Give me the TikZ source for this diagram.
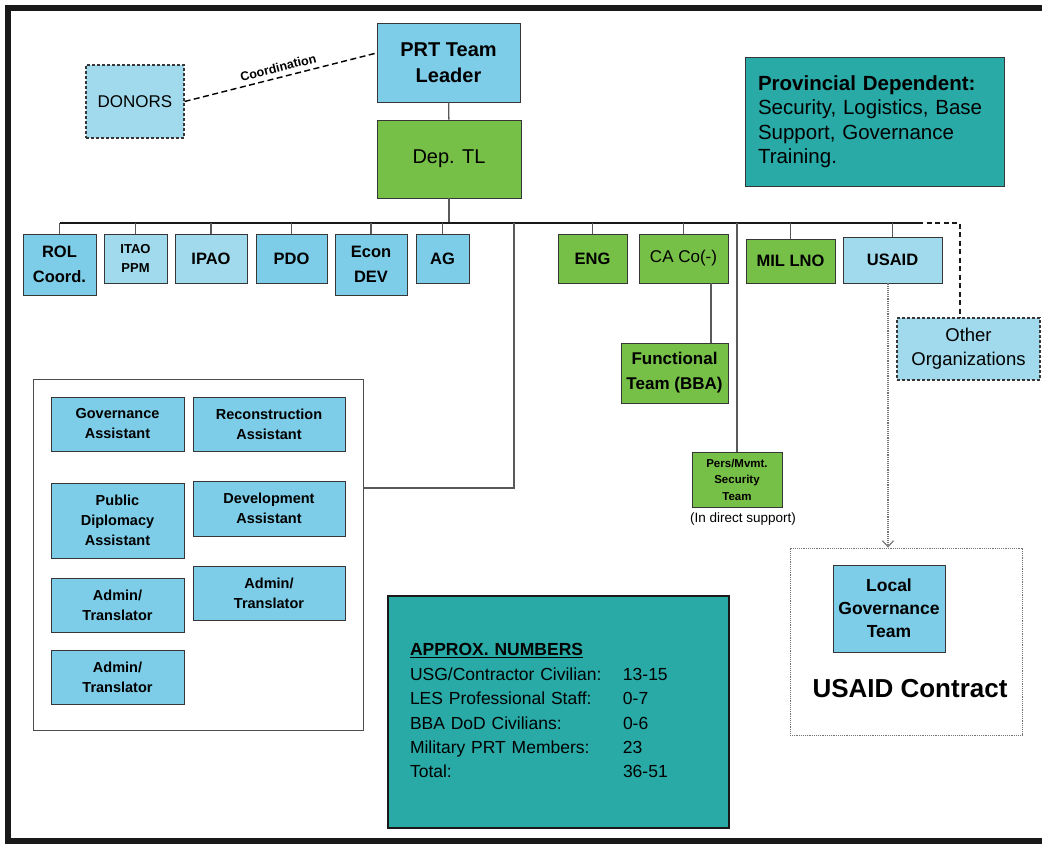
\documentclass[tikz,border=0pt]{standalone}
\usepackage{fontspec}
\setmainfont{Liberation Sans}
\usepackage{tikz}
\usetikzlibrary{positioning,arrows.meta}
\tikzset{link/.style={line width=0.5mm, draw=black!65}}
\tikzset{bus/.style={line width=0.5mm, draw=black!90}}
\tikzset{lbl/.style={draw=none, inner sep=0pt}}
\tikzset{longdash/.style={dash pattern=on 6pt off 3.5pt}}
\definecolor{orgblue}{RGB}{125,205,232}
\definecolor{orgpale}{RGB}{160,218,236}
\definecolor{orggreen}{RGB}{118,192,72}
\definecolor{orgteal}{RGB}{41,170,167}
\definecolor{boxline}{RGB}{55,55,55}
\newcommand{\orgsize}[2]{\fontsize{#1}{#2}\selectfont}

\begin{document}
\begin{tikzpicture}[x=1pt, y=-1pt, every node/.style={draw=boxline, line width=0.3mm, align=center, inner sep=2pt}]
            \useasboundingbox (0,0) rectangle (1042,844);
            \draw[line width=6pt, black!90] (1042,8) -- (8,8) -- (8,841) -- (1042,841);

            % top of the chart
            \node[fill=orgblue, minimum width=143, minimum height=79, font=\bfseries\orgsize{20}{26}] (leader) at (448.5,62.5) {PRT Team\\Leader};
            \node[fill=orggreen, minimum width=144, minimum height=78, font=\orgsize{20}{24}] (deptl) at (449,159) {Dep. TL};
            \node[fill=orgpale, dash pattern=on 3pt off 2pt, line width=0.4mm, minimum width=98, minimum height=73, font=\orgsize{17}{20}] (donors) at (135,101.5) {DONORS};
            \node[fill=orgteal, minimum height=129, text width=233, inner xsep=13pt, align=left, font=\orgsize{20.5}{24.5}] (prov) at (874.5,121.5)
                {\textbf{Provincial Dependent:}\\Security, Logistics, Base\\Support, Governance\\Training.};

            % first row
            \node[fill=orgblue, minimum width=73, minimum height=61, font=\bfseries\orgsize{16.5}{25}] (rol) at (59.5,264.5) {ROL\\Coord.};
            \node[fill=orgpale, minimum width=63, minimum height=49, font=\bfseries\orgsize{13}{19}] (itao) at (135.5,258.5) {ITAO\\PPM};
            \node[fill=orgpale, minimum width=72, minimum height=49, font=\bfseries\orgsize{16.5}{20}] (ipao) at (211,258.5) {IPAO};
            \node[fill=orgblue, minimum width=71, minimum height=49, font=\bfseries\orgsize{16.5}{20}] (pdo) at (291.5,258.5) {PDO};
            \node[fill=orgblue, minimum width=72, minimum height=61, font=\bfseries\orgsize{16.5}{25}] (econ) at (371,264.5) {Econ\\DEV};
            \node[fill=orgblue, minimum width=53, minimum height=49, font=\bfseries\orgsize{16.5}{20}] (ag) at (442.5,258.5) {AG};
            \node[fill=orggreen, minimum width=69, minimum height=49, font=\bfseries\orgsize{16.5}{20}] (eng) at (592.5,258.5) {ENG};
            \node[fill=orggreen, minimum width=89, minimum height=49, font=\orgsize{17}{20}] (caco) at (683.5,258.5) {CA Co(-)};
            \node[fill=orggreen, minimum width=89, minimum height=44, font=\bfseries\orgsize{16.5}{20}] (milno) at (790.5,261) {MIL LNO};
            \node[fill=orgpale, minimum width=99, minimum height=46, font=\bfseries\orgsize{16.5}{20}] (usaid) at (892.5,260) {USAID};
            \node[fill=orgpale, dash pattern=on 3pt off 2pt, line width=0.4mm, minimum width=143, minimum height=62, font=\orgsize{18.5}{24}] (other) at (968.5,349) {Other\\Organizations};

            \node[fill=orggreen, minimum width=107, minimum height=60, font=\bfseries\orgsize{17}{25}] (func) at (674.5,373) {Functional\\Team (BBA)};
            \node[fill=orggreen, minimum width=90, minimum height=55, font=\bfseries\orgsize{11.5}{16.5}] (pers) at (737,479.5) {Pers/Mvmt.\\Security\\Team};
            \node[lbl, font=\orgsize{13.5}{16}] (support) at (743,519) {(In direct support)};

            % assistants
            \node[draw=black!70, fill=white, minimum width=330, minimum height=351] (asst) at (198,554.5) {};
            \node[fill=orgblue, minimum width=133, minimum height=54, font=\bfseries\orgsize{14.5}{20}] (gov) at (117.5,424) {Governance\\Assistant};
            \node[fill=orgblue, minimum width=152, minimum height=54, font=\bfseries\orgsize{14.5}{20}] (recon) at (269,424) {Reconstruction\\Assistant};
            \node[fill=orgblue, minimum width=133, minimum height=75, font=\bfseries\orgsize{14.5}{20}] (pubdip) at (117.5,520.5) {Public\\Diplomacy\\Assistant};
            \node[fill=orgblue, minimum width=152, minimum height=55, font=\bfseries\orgsize{14.5}{20}] (devel) at (269,508.5) {Development\\Assistant};
            \node[fill=orgblue, minimum width=133, minimum height=54, font=\bfseries\orgsize{14.5}{20}] (admina) at (117.5,605) {Admin/\\Translator};
            \node[fill=orgblue, minimum width=152, minimum height=54, font=\bfseries\orgsize{14.5}{20}] (adminb) at (269,593) {Admin/\\Translator};
            \node[fill=orgblue, minimum width=133, minimum height=54, font=\bfseries\orgsize{14.5}{20}] (adminc) at (117.5,677) {Admin/\\Translator};

            % usaid contract
            \node[draw=black!55, densely dotted, minimum width=232, minimum height=187] (contract) at (906,641.5) {};
            \node[fill=orgblue, minimum width=112, minimum height=87, font=\bfseries\orgsize{17.5}{23}] (local) at (889,608.5) {Local\\Governance\\Team};
            \node[lbl, font=\bfseries\orgsize{26}{30}] (contractlbl) at (910,689) {USAID Contract};

            % numbers
            \node[fill=orgteal, line width=0.9mm, draw=black!90, minimum height=232, text width=297, inner xsep=22pt, align=left, font=\orgsize{17.5}{24.4}] (numbers) at (558.5,712)
                {\begin{tabular}{@{}p{213pt}@{}l@{}}
                 \multicolumn{2}{@{}l}{\underline{\textbf{APPROX. NUMBERS}}}\\
                 USG/Contractor Civilian: & 13-15\\
                 LES Professional Staff: & 0-7\\
                 BBA DoD Civilians: & 0-6\\
                 Military PRT Members: & 23\\
                 Total: & 36-51
                 \end{tabular}};

            % connectors
            \coordinate (busl) at (60,223);
            \coordinate (busr) at (918,223);
            \coordinate (asttap) at (514,223);
            \draw[link] (leader) -- (deptl);
            \draw[link] (deptl.south) -- (deptl.south |- busl);
            \draw[bus] (busl) -- (busr);
            \foreach \n in {rol,itao,ipao,pdo,econ,ag,eng,caco,milno,usaid,pers}
                \draw[link] (\n.north) -- (\n.north |- busl);
            \draw[link] (asttap) |- ([yshift=66.5]asst.east);
            \draw[link] ([xshift=27.5]caco.south) -- ([xshift=27.5]caco.south |- func.north);
            \draw[bus, dash pattern=on 5pt off 3.5pt] (busr) -| ([xshift=-8.5]other.north);
            \draw[line width=0.5mm, longdash] (donors.east) -- node[lbl, sloped, above=5pt, font=\bfseries\orgsize{12.5}{15}] {Coordination} ([yshift=9.5]leader.west);
            \draw[densely dotted, black!55, line width=0.4mm, -{Straight Barb[length=6pt, width=11pt]}] ([xshift=-4.5]usaid.south) -- ([xshift=-4.5]usaid.south |- contract.north);
        \end{tikzpicture}
\end{document}
